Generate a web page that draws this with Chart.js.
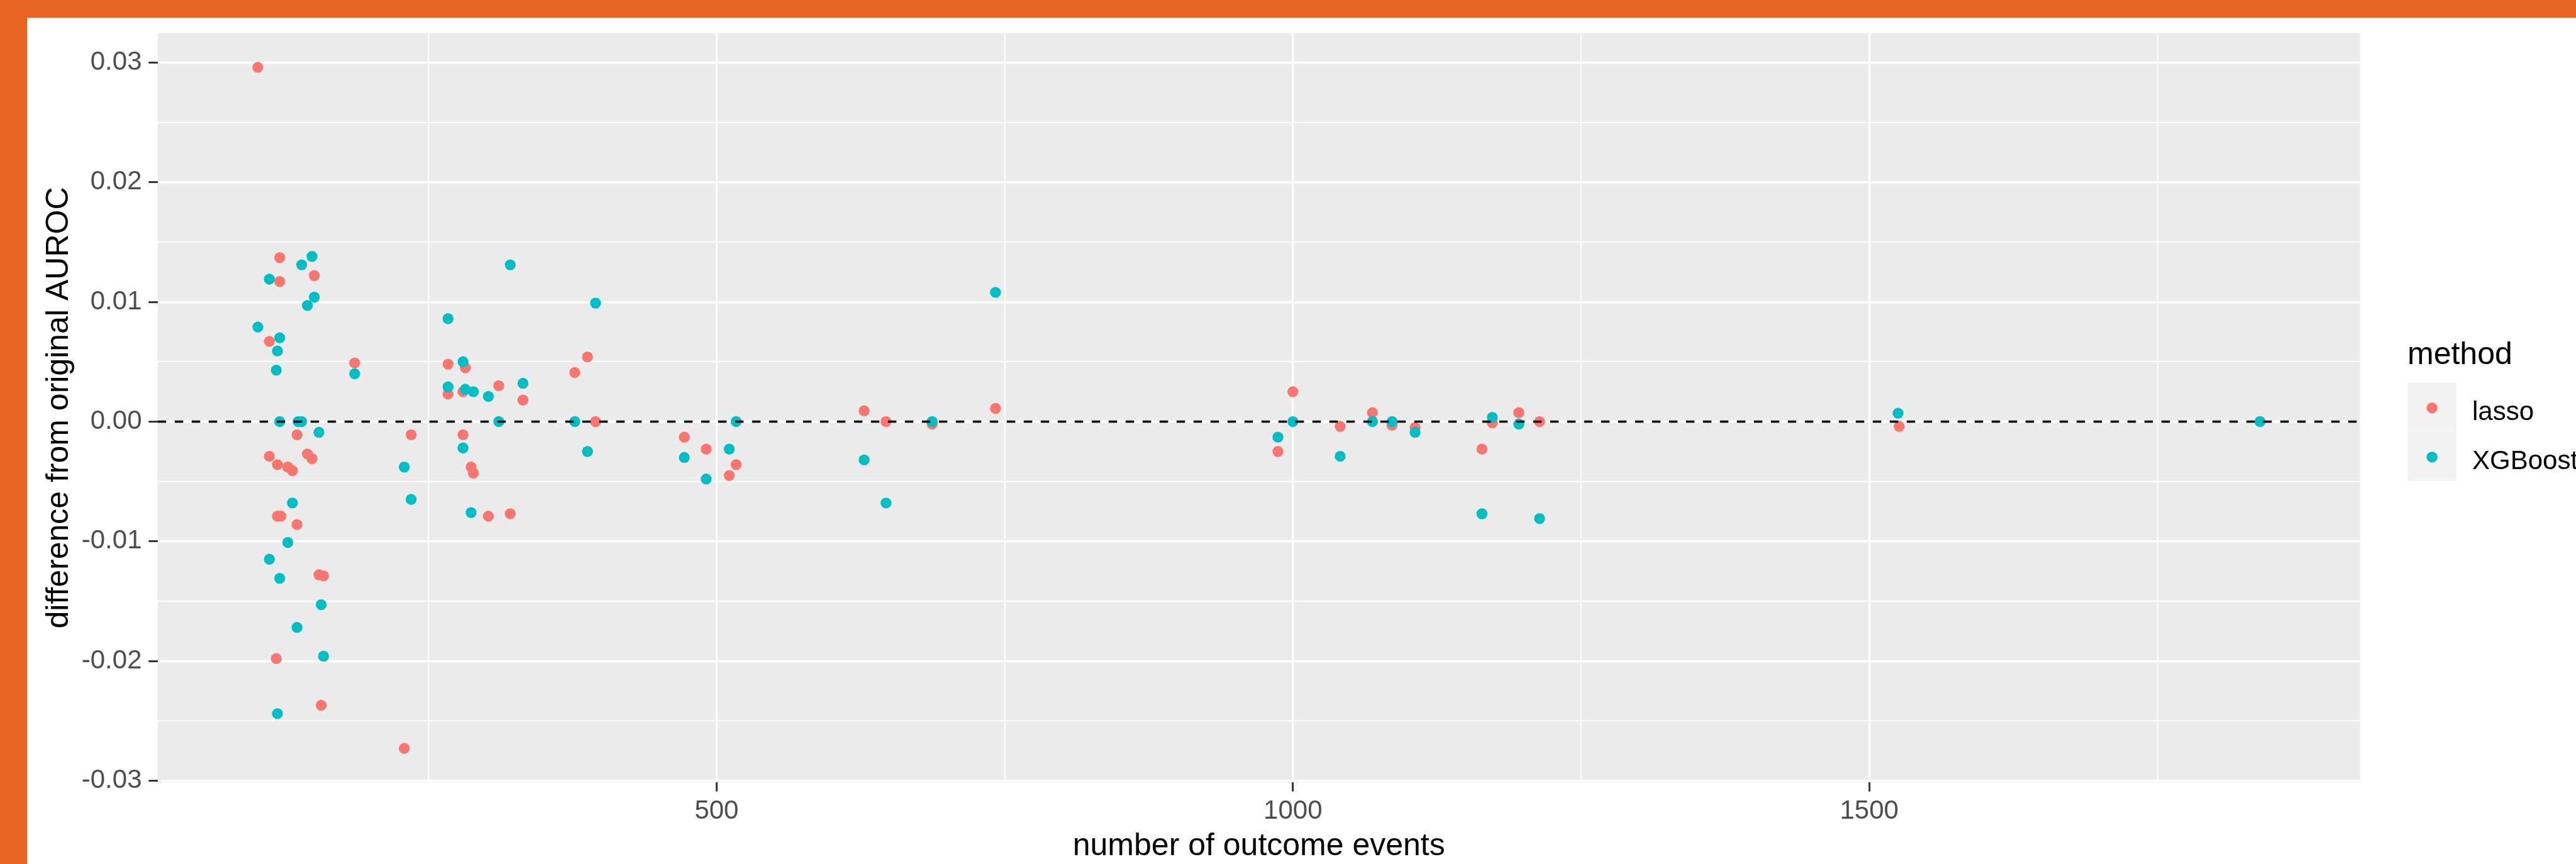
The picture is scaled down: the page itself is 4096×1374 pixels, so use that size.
<!DOCTYPE html>
<html>
<head>
<meta charset="utf-8">
<script src="https://cdn.jsdelivr.net/npm/chart.js@4.4.1/dist/chart.umd.min.js"></script>
<style>
html,body{margin:0;padding:0;background:#ffffff;overflow:hidden;}
canvas{display:block;}
</style>
</head>
<body>
<canvas id="c" width="4096" height="1374" style="width:4096px;height:1374px"></canvas>
<script>
// ---------------- data ----------------
const seriesNames = ['lasso', 'XGBoost'];
const legendTitle = 'method';
const xAxisTitle = 'number of outcome events';
const yAxisTitle = 'difference from original AUROC';

const lassoEvents = [102, 121, 151, 121, 112, 186, 136, 235, 112, 145, 149, 119, 128, 132, 119, 122, 136, 155, 159, 118, 157, 229,
  388, 267, 282, 377, 311, 267, 280, 332, 395, 280, 287, 289, 302, 321,
  742, 628, 647, 687, 472, 491, 517, 511,
  1000, 987, 1041, 1069, 1086, 1106, 1164, 1173, 1196, 1214, 1526];
const lassoDiff = [0.0296, 0.0137, 0.0122, 0.0117, 0.0067, 0.0049, -0.0011, -0.0011, -0.0029, -0.0027, -0.0031, -0.0036, -0.0038, -0.0041, -0.0079, -0.0079, -0.0086, -0.0128, -0.0129, -0.0198, -0.0237, -0.0273,
  0.0054, 0.0048, 0.0045, 0.0041, 0.0030, 0.0023, 0.0025, 0.0018, 0.0000, -0.0011, -0.0038, -0.0043, -0.0079, -0.0077,
  0.0011, 0.0009, 0.0000, -0.0002, -0.0013, -0.0023, -0.0036, -0.0045,
  0.0025, -0.0025, -0.0004, 0.00075, -0.0003, -0.0005, -0.0023, -0.0001, 0.00075, 0.0000, -0.0004];

const xgbEvents = [149, 140, 112, 151, 145, 102, 121, 119, 118, 186, 121, 137, 140, 155, 229, 235, 132, 128, 112, 121, 157, 136, 159, 119,
  321, 395, 267, 280, 332, 267, 282, 289, 302, 311, 377, 280, 388, 287,
  742, 517, 687, 472, 511, 491, 628, 647,
  1000, 987, 1041, 1069, 1086, 1106, 1164, 1173, 1196, 1214, 1525, 1839];
const xgbDiff = [0.0138, 0.0131, 0.0119, 0.0104, 0.0097, 0.0079, 0.0070, 0.0059, 0.0043, 0.0040, 0.0000, 0.0000, 0.0000, -0.0009, -0.0038, -0.0065, -0.0068, -0.0101, -0.0115, -0.0131, -0.0153, -0.0172, -0.0196, -0.0244,
  0.0131, 0.0099, 0.0086, 0.0050, 0.0032, 0.0029, 0.0027, 0.0025, 0.0021, 0.0000, 0.0000, -0.0022, -0.0025, -0.0076,
  0.0108, 0.0000, 0.0000, -0.0030, -0.0023, -0.0048, -0.0032, -0.0068,
  0.0000, -0.0013, -0.0029, 0.0000, 0.0000, -0.0009, -0.0077, 0.00035, -0.0002, -0.0081, 0.0007, 0.0000];

const hlineY = 0;

const xMajorTicks = [500, 1000, 1500];
const xMinorTicks = [250, 750, 1250, 1750];
const xTickLabels = ['500', '1000', '1500'];
const yMajorTicks = [-0.03, -0.02, -0.01, 0, 0.01, 0.02, 0.03];
const yMinorTicks = [-0.025, -0.015, -0.005, 0.005, 0.015, 0.025];
const yTickLabels = ['-0.03', '-0.02', '-0.01', '0.00', '0.01', '0.02', '0.03'];

// ---------------- style ----------------
const FONT = "'Liberation Sans', Arial, Helvetica, sans-serif";
const COLORS = ['#F8766D', '#00BFC4'];
const ORANGE = '#E96522';
const PANEL_BG = '#EBEBEB';
const POINT_R = 8.7;

// ggplot-like 5% expansion of the data range
function expandRange(arr) {
  const lo = Math.min(...arr), hi = Math.max(...arr);
  const pad = (hi - lo) * 0.05;
  return [lo - pad, hi + pad];
}
const [xMin, xMax] = expandRange(lassoEvents.concat(xgbEvents));
const [yMin, yMax] = expandRange(lassoDiff.concat(xgbDiff));

const near = (a, b) => Math.abs(a - b) < 1e-9;
const isMajorX = v => xMajorTicks.some(t => near(t, v));
const isMajorY = v => yMajorTicks.some(t => near(t, v));

function pts(xs, ys) { return xs.map((x, i) => ({x: x, y: ys[i]})); }

const bgPlugin = {
  id: 'ggbg',
  beforeDraw(chart) {
    const {ctx, chartArea: a, width, height} = chart;
    ctx.save();
    ctx.fillStyle = '#ffffff';
    ctx.fillRect(0, 0, width, height);
    ctx.fillStyle = ORANGE;
    ctx.fillRect(0, 0, width, 28.4);
    ctx.fillRect(0, 0, 43.2, height);
    ctx.fillStyle = PANEL_BG;
    ctx.fillRect(a.left, a.top, a.right - a.left, a.bottom - a.top);
    ctx.restore();
  }
};

const legendPlugin = {
  id: 'gglegend',
  afterDraw(chart) {
    const {ctx, chartArea: a} = chart;
    const x0 = a.right + 75.3;
    const keyTop = 608.1;
    const key = 78.2;
    ctx.save();
    ctx.textAlign = 'left';
    ctx.textBaseline = 'alphabetic';
    ctx.fillStyle = '#000000';
    ctx.font = '50px ' + FONT;
    ctx.fillText(legendTitle, x0, 579);
    seriesNames.forEach((name, i) => {
      const ds = chart.data.datasets.find(d => d.label === name);
      const top = keyTop + i * key;
      ctx.fillStyle = '#F2F2F2';
      ctx.fillRect(x0, top, key, key);
      ctx.beginPath();
      ctx.fillStyle = ds.backgroundColor;
      ctx.arc(x0 + key / 2, top + key / 2 + 1.5, POINT_R, 0, Math.PI * 2);
      ctx.fill();
      ctx.fillStyle = '#000000';
      ctx.font = '42px ' + FONT;
      ctx.fillText(name, x0 + 103, top + key / 2 + 21);
    });
    ctx.restore();
  }
};

Chart.defaults.font.family = FONT;

new Chart(document.getElementById('c'), {
  type: 'scatter',
  data: {
    datasets: [
      {
        label: 'hline',
        type: 'line',
        data: [{x: xMin, y: hlineY}, {x: xMax, y: hlineY}],
        borderColor: '#000000',
        borderWidth: 3.4,
        borderDash: [13.5, 13.5],
        pointRadius: 0,
        showLine: true,
        fill: false,
        order: 0
      },
      {
        label: seriesNames[1],
        data: pts(xgbEvents, xgbDiff),
        backgroundColor: COLORS[1],
        borderColor: COLORS[1],
        borderWidth: 0,
        pointRadius: POINT_R,
        pointHoverRadius: POINT_R,
        order: 1
      },
      {
        label: seriesNames[0],
        data: pts(lassoEvents, lassoDiff),
        backgroundColor: COLORS[0],
        borderColor: COLORS[0],
        borderWidth: 0,
        pointRadius: POINT_R,
        pointHoverRadius: POINT_R,
        order: 2
      }
    ]
  },
  options: {
    responsive: false,
    animation: false,
    events: [],
    layout: {padding: {top: 52.9, right: 343.3, bottom: 0, left: 0}},
    plugins: {
      legend: {display: false},
      tooltip: {enabled: false},
      title: {display: false}
    },
    scales: {
      x: {
        type: 'linear',
        min: xMin,
        max: xMax,
        afterFit(scale) { scale.height = 129.8; },
        afterBuildTicks(scale) {
          scale.ticks = xMajorTicks.concat(xMinorTicks).sort((a, b) => a - b).map(v => ({value: v}));
        },
        border: {display: false},
        grid: {
          color: '#FFFFFF',
          lineWidth: c => (c.tick && isMajorX(c.tick.value)) ? 3.2 : 1.8,
          drawTicks: true,
          tickLength: 14.5,
          tickWidth: 3,
          tickColor: c => (c.tick && isMajorX(c.tick.value)) ? '#333333' : 'rgba(0,0,0,0)'
        },
        ticks: {
          autoSkip: false,
          maxRotation: 0,
          minRotation: 0,
          padding: 6.7,
          color: '#4D4D4D',
          font: {size: 42, family: FONT},
          callback: v => {
            const i = xMajorTicks.findIndex(t => near(t, v));
            return i >= 0 ? xTickLabels[i] : '';
          }
        },
        title: {
          display: true,
          text: xAxisTitle,
          color: '#000000',
          font: {size: 50, family: FONT, lineHeight: 1},
          padding: {top: 0, bottom: 2.7}
        }
      },
      y: {
        type: 'linear',
        min: yMin,
        max: yMax,
        afterFit(scale) { scale.width = 250.8; },
        afterBuildTicks(scale) {
          scale.ticks = yMajorTicks.concat(yMinorTicks).sort((a, b) => a - b).map(v => ({value: v}));
        },
        border: {display: false},
        grid: {
          color: '#FFFFFF',
          lineWidth: c => (c.tick && isMajorY(c.tick.value)) ? 3.2 : 1.8,
          drawTicks: true,
          tickLength: 14.5,
          tickWidth: 3,
          tickColor: c => (c.tick && isMajorY(c.tick.value)) ? '#333333' : 'rgba(0,0,0,0)'
        },
        ticks: {
          autoSkip: false,
          padding: 10.8,
          color: '#4D4D4D',
          font: {size: 42, family: FONT},
          callback: v => {
            const i = yMajorTicks.findIndex(t => near(t, v));
            return i >= 0 ? yTickLabels[i] : '';
          }
        },
        title: {
          display: true,
          text: yAxisTitle,
          color: '#000000',
          font: {size: 50, family: FONT, lineHeight: 1},
          padding: {top: 69.3, bottom: 0}
        }
      }
    }
  },
  plugins: [bgPlugin, legendPlugin]
});
</script>
</body>
</html>
